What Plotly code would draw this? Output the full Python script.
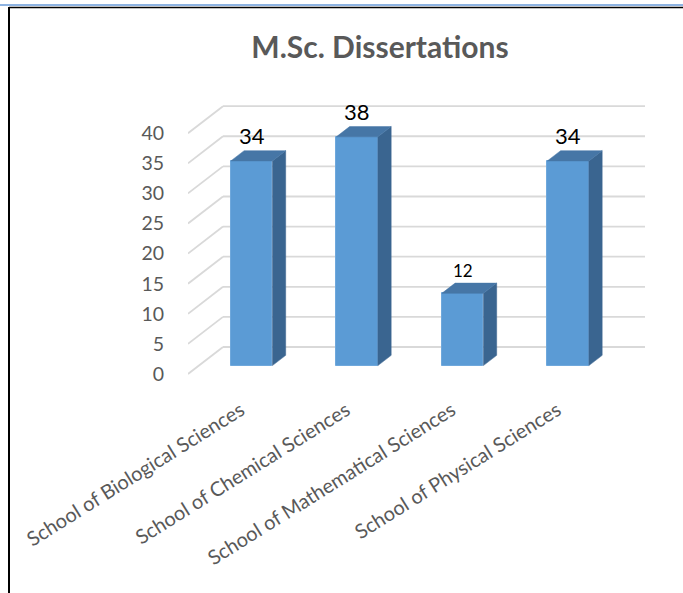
import plotly.graph_objects as go

# ---------------- data ----------------
categories = ["School of Biological Sciences", "School of Chemical Sciences",
              "School of Mathematical Sciences", "School of Physical Sciences"]
values = [34, 38, 12, 34]
y_ticks = [0, 5, 10, 15, 20, 25, 30, 35, 40]
title_text = "M.Sc. Dissertations"

# ---------------- styles ----------------
label_font_sizes = [22, 22, 17, 22]
FRONT = "#5B9BD5"
SIDE = "#3A6590"
TOP = "#4676A6"
GRID = "#D9D9D9"
TXT = "#595959"
FONT = "Lato"

W, H = 683, 593
# plot area in pixels
PL, PR, PT, PB = 188, 650, 100, 377
X0 = -0.5
X1 = X0 + (PR - PL) / 105.5
Y1 = 45.51
Y0 = -0.5

# 3-D depth offsets (data units) and bar depth fractions
DX = 35 / 105.5
DY = 27 / 6.02
D0, D1 = 0.31, 0.69
HALF = 0.197


def px2paper_x(px):
    return (px - PL) / (PR - PL)


def px2paper_y(py):
    return (PB - py) / (PB - PT)


fig = go.Figure()

# front faces (bars)
xs = [i + D0 * DX for i in range(len(values))]
fig.add_trace(go.Bar(
    x=xs, y=values, base=[D0 * DY] * len(values), width=2 * HALF,
    marker=dict(color=FRONT, line=dict(color="#6FA8DC", width=1)),
    hoverinfo="skip", showlegend=False,
))

# side and top faces
ddx, ddy = (D1 - D0) * DX, (D1 - D0) * DY
for i, v in enumerate(values):
    fx0 = i - HALF + D0 * DX
    fx1 = i + HALF + D0 * DX
    fy0 = D0 * DY
    fy1 = v + D0 * DY
    fig.add_trace(go.Scatter(
        x=[fx1, fx1 + ddx, fx1 + ddx, fx1, fx1],
        y=[fy0, fy0 + ddy, fy1 + ddy, fy1, fy0],
        mode="lines", fill="toself", fillcolor=SIDE,
        line=dict(color=SIDE, width=0.5), hoverinfo="skip", showlegend=False,
    ))
    fig.add_trace(go.Scatter(
        x=[fx0, fx1, fx1 + ddx, fx0 + ddx, fx0],
        y=[fy1, fy1, fy1 + ddy, fy1 + ddy, fy1],
        mode="lines", fill="toself", fillcolor=TOP,
        line=dict(color=TOP, width=0.5), hoverinfo="skip", showlegend=False,
    ))

# gridlines (back wall + left wall diagonals) as shapes below traces
shapes = []
n = len(categories)
for t in y_ticks:
    shapes.append(dict(type="line", xref="x", yref="y", layer="below",
                       x0=X0, y0=t, x1=X0 + DX, y1=t + DY,
                       line=dict(color=GRID, width=1.8)))
    shapes.append(dict(type="line", xref="x", yref="y", layer="below",
                       x0=X0 + DX, y0=t + DY, x1=n - 0.5 + DX, y1=t + DY,
                       line=dict(color=GRID, width=1.8)))

# page frame lines
shapes.append(dict(type="line", xref="paper", yref="paper",
                   x0=px2paper_x(0), x1=px2paper_x(W), y0=px2paper_y(5), y1=px2paper_y(5),
                   line=dict(color="#8DB3E2", width=2)))
shapes.append(dict(type="line", xref="paper", yref="paper",
                   x0=px2paper_x(9), x1=px2paper_x(W), y0=px2paper_y(7.5), y1=px2paper_y(7.5),
                   line=dict(color="#000000", width=1.5)))
shapes.append(dict(type="line", xref="paper", yref="paper",
                   x0=px2paper_x(9), x1=px2paper_x(9), y0=px2paper_y(7), y1=px2paper_y(H),
                   line=dict(color="#000000", width=2)))

# data labels
annotations = []
for i, v in enumerate(values):
    annotations.append(dict(
        x=i + D0 * DX, y=v + D1 * DY, xref="x", yref="y",
        text=str(v), showarrow=False, yanchor="bottom", xanchor="center",
        font=dict(family=FONT, size=label_font_sizes[i], color="#000000"),
    ))

fig.update_layout(
    width=W, height=H,
    margin=dict(l=PL, r=W - PR, t=PT, b=H - PB),
    paper_bgcolor="white", plot_bgcolor="white",
    title=dict(text="<b>" + title_text + "</b>", x=px2paper_x(380), xanchor="center",
               xref="paper", y=1 - 47 / H, yanchor="middle",
               font=dict(family=FONT, size=30, color=TXT)),
    shapes=shapes, annotations=annotations,
    showlegend=False, bargap=0,
)
fig.update_xaxes(
    range=[X0, X1], tickmode="array", tickvals=list(range(n)), ticktext=categories,
    tickangle=-32, showgrid=False, zeroline=False, showline=False,
    ticks="outside", ticklen=13, tickcolor="rgba(0,0,0,0)",
    tickfont=dict(family=FONT, size=20, color=TXT),
)
fig.update_yaxes(
    range=[Y0, Y1], tickmode="array", tickvals=y_ticks,
    showgrid=False, zeroline=False, showline=False,
    ticks="outside", ticklen=19, tickcolor="rgba(0,0,0,0)",
    tickfont=dict(family=FONT, size=19.5, color=TXT),
)

fig.write_html("out.html", config={"displayModeBar": False},
               post_script="document.body.style.margin='0';document.body.style.overflow='hidden';")
